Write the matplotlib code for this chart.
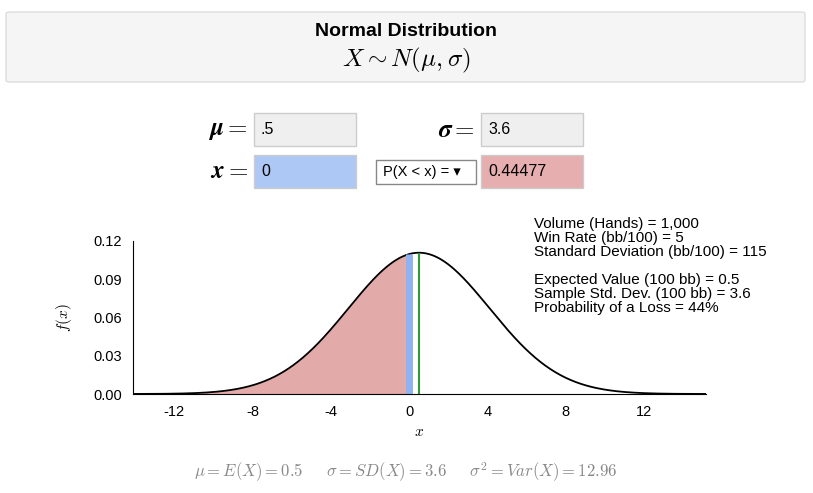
import numpy as np
import matplotlib.pyplot as plt
from matplotlib.patches import FancyBboxPatch, Rectangle

plt.rcParams['font.family'] = ['Liberation Sans', 'DejaVu Sans']
plt.rcParams['mathtext.fontset'] = 'cm'
plt.rcParams['axes.unicode_minus'] = False

mu = 0.5
sigma = 3.6
x_value = 0
prob = "0.44477"
xticks = [-12, -8, -4, 0, 4, 8, 12]
yticks = [0.00, 0.03, 0.06, 0.09, 0.12]
ytick_labels = ["0.00", "0.03", "0.06", "0.09", "0.12"]
info_lines = ["Volume (Hands) = 1,000", "Win Rate (bb/100) = 5",
              "Standard Deviation (bb/100) = 115", "",
              "Expected Value (100 bb) = 0.5", "Sample Std. Dev. (100 bb) = 3.6",
              "Probability of a Loss = 44%"]

W, H = 813, 493
fig = plt.figure(figsize=(8.13, 4.93), dpi=100)

def px(x, y):
    return x / W, 1 - y / H

fig.patches.append(FancyBboxPatch(px(6, 82), 799 / W, 70 / H, boxstyle="round,pad=0,rounding_size=0.004",
                                  transform=fig.transFigure, facecolor="#f5f5f5", edgecolor="#dddddd", lw=1))
fig.text(*px(406, 32), "Normal Distribution", ha="center", va="center", fontsize=14, fontweight="bold")
fig.text(*px(406, 60), r"$X \sim N(\mu,\sigma)$", ha="center", va="center", fontsize=18)

def box(x0, y0, x1, y1, fc, txt, ec="#cccccc", fs=11.5):
    fig.patches.append(Rectangle(px(x0, y1), (x1 - x0) / W, (y1 - y0) / H, transform=fig.transFigure,
                                 facecolor=fc, edgecolor=ec, lw=1))
    fig.text(*px(x0 + 7, (y0 + y1) / 2), txt, ha="left", va="center", fontsize=fs)

box(254, 113, 356, 146, "#efefef", ".5")
box(481, 113, 583, 146, "#efefef", "3.6")
box(254, 155, 356, 188, "#aec8f5", "0")
box(481, 155, 583, 188, "#e6aeae", prob)
box(376, 160, 476, 184, "white", "P(X < x) = \u25be", ec="#888888", fs=10.5)
fig.text(*px(248, 130), r"$\boldsymbol{\mu} =$", ha="right", va="center", fontsize=18)
fig.text(*px(475, 130), r"$\boldsymbol{\sigma} =$", ha="right", va="center", fontsize=18)
fig.text(*px(248, 171), r"$\boldsymbol{x} =$", ha="right", va="center", fontsize=18)

ax = fig.add_axes([133 / W, 1 - 394 / H, (706 - 133) / W, (394 - 241) / H])
xs = np.linspace(-14.1, 15.15, 800)
pdf = np.exp(-0.5 * ((xs - mu) / sigma) ** 2) / (sigma * np.sqrt(2 * np.pi))
ax.fill_between(xs, pdf, where=xs <= x_value, color="#e3aaaa", lw=0)
ax.plot(xs, pdf, color="black", lw=1.3)
pk = np.exp(-0.5 * ((x_value - mu) / sigma) ** 2) / (sigma * np.sqrt(2 * np.pi))
ax.vlines(x_value, 0, pk, color="#8fb3f0", lw=5)
ax.vlines(mu, 0, 1 / (sigma * np.sqrt(2 * np.pi)), color="#2e9a3a", lw=1.5)
ax.set_xlim(-14.1, 15.15)
ax.set_ylim(0, 0.12)
ax.set_xticks(xticks)
ax.set_yticks(yticks, ytick_labels)
ax.tick_params(length=0, labelsize=10.5, pad=8)
for s in ["top", "right"]:
    ax.spines[s].set_visible(False)
ax.set_xlabel(r"$x$", fontsize=11)
ax.set_ylabel(r"$f(x)$", fontsize=11, labelpad=14)
ax.patch.set_alpha(0)

fig.text(*px(534, 217), "\n".join(info_lines), ha="left", va="top", fontsize=11, linespacing=1.0)

fig.text(*px(406, 472), r"$\mu = E(X) = 0.5 \quad\ \ \sigma = SD(X) = 3.6 \quad\ \ \sigma^2 = Var(X) = 12.96$",
         ha="center", va="center", fontsize=12, color="#888888")

fig.savefig("out.png", dpi=100)
